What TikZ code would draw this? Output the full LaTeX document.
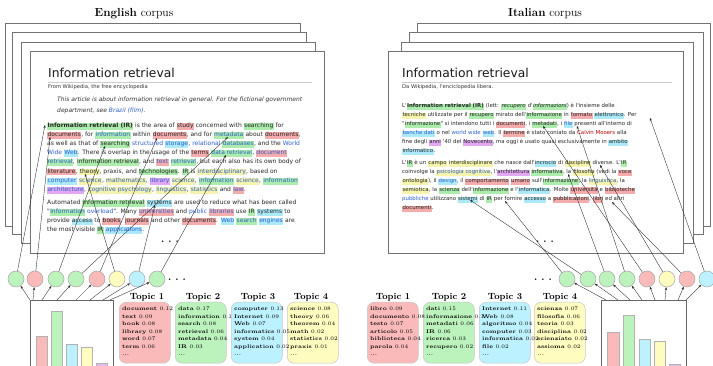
\documentclass[tikz,border=0pt]{standalone}
\usepackage{fontspec}
\newfontfamily\wiki{DejaVu Sans}
\usetikzlibrary{arrows.meta}
\definecolor{hR}{RGB}{245,172,172}
\definecolor{hG}{RGB}{172,236,172}
\definecolor{hC}{RGB}{172,234,250}
\definecolor{hY}{RGB}{246,244,172}
\definecolor{hP}{RGB}{226,168,242}
\definecolor{lnk}{RGB}{45,95,205}
\definecolor{cR}{RGB}{250,186,186}
\definecolor{cG}{RGB}{188,242,188}
\definecolor{cC}{RGB}{188,242,255}
\definecolor{cY}{RGB}{255,252,192}
\definecolor{cP}{RGB}{226,188,236}
\newcommand\HLbox[2]{\begingroup\setlength\fboxsep{0.35pt}\colorbox{#1}{\rule[-1.5pt]{0pt}{5.6pt}#2}\endgroup}
\newcommand\HLr[1]{\HLbox{hR}{#1}}
\newcommand\HLg[1]{\HLbox{hG}{#1}}
\newcommand\HLc[1]{\HLbox{hC}{#1}}
\newcommand\HLy[1]{\HLbox{hY}{#1}}
\newcommand\HLp[1]{\HLbox{hP}{#1}}
\newcommand\LK[1]{\textcolor{lnk}{#1}}
\tikzset{
 page/.style={draw=black!55, line width=0.8pt, fill=white},
 txt/.style={anchor=base west, inner sep=0pt, font=\wiki\fontsize{5.4}{6}\selectfont, text=black!85},
 etxt/.style={anchor=base west, inner sep=0pt, font=\wiki\fontsize{6.0}{6.5}\selectfont, text=black!85},
 wtitle/.style={anchor=base west, inner sep=0pt, font=\wiki\fontsize{12.3}{14}\selectfont, text=black!90},
 wfrom/.style={anchor=base west, inner sep=0pt, font=\wiki\fontsize{5.2}{6}\selectfont, text=black!80},
 wnote/.style={anchor=base west, inner sep=0pt, font=\wiki\itshape\fontsize{6.0}{6.5}\selectfont, text=black!80},
 wrule/.style={draw=black!20, line width=0.4pt},
 dots/.style={inner sep=0pt, font=\bfseries\fontsize{10}{10}\selectfont},
 tcirc/.style={circle, minimum size=16pt, inner sep=0pt, draw=black!35, line width=0.5pt},
 warr/.style={-{Stealth[length=3pt,width=2.2pt]}, line width=0.35pt, black!85},
 topic/.style={draw=black!22, line width=0.5pt, rounded corners=7pt, minimum width=51pt, minimum height=61pt, anchor=north west, inner sep=0pt},
 tlist/.style={anchor=north west, align=left, inner sep=0pt, font=\fontsize{5.4}{7.5}\selectfont},
 ttl/.style={font=\bfseries\fontsize{9}{10}\selectfont, anchor=base, inner sep=0pt},
 corp/.style={font=\fontsize{11.7}{13}\selectfont, anchor=base, inner sep=0pt},
 bar/.style={draw=black!30, line width=0.4pt},
 hist/.style={draw=black!60, line width=0.7pt},
}
\begin{document}
\begin{tikzpicture}[x=1pt,y=-1pt]
\useasboundingbox[fill=white] (0,0) rectangle (713,366);
% ---------------- titles
\node[corp] (ecorp) at (134,17) {\textbf{English} corpus};
\node[corp] (icorp) at (545,17) {\textbf{Italian} corpus};
% ---------------- English pages
\draw[page] (5,23) rectangle (300,226);
\draw[page] (12,32) rectangle (306,234);
\draw[page] (21,42) rectangle (315,243);
\draw[page] (30,51) rectangle (324,253);
% ---------------- Italian pages
\draw[page] (417,23) rectangle (710,226);
\draw[page] (409,32) rectangle (703,234);
\draw[page] (401,42) rectangle (693,243);
\draw[page] (388,51) rectangle (683,253);
% ---------------- English page content
\node[wtitle] (ehead) at (48,78) {Information retrieval};
\draw[wrule] (48,82) -- (312,82);
\node[wfrom] (efrom) at (48,89) {From Wikipedia, the free encyclopedia};
\node[wnote] (enote1) at (57,102) {This article is about information retrieval in general. For the fictional government};
\node[wnote] (enote2) at (57,113) {department, see \LK{Brazil (film)}.};
\node[etxt] (el1) at (47,128) {\HLg{\textbf{Information retrieval (IR)}} is the area of \HLr{study} concerned with \HLg{searching} for};
\node[etxt] (el2) at (47,137) {\HLr{documents}, for \HLg{\LK{information}} within \HLr{documents}, and for \HLg{\LK{metadata}} about \HLr{documents},};
\node[etxt] (el3) at (47,146) {as well as that of \HLg{searching} \LK{structured} \HLc{\LK{storage}}, \LK{relational} \HLg{\LK{databases}}, and the \LK{World}};
\node[etxt] (el4) at (47,155) {\LK{Wide} \HLc{\LK{Web}}. There is overlap in the usage of the \HLr{terms} \HLg{\LK{data retrieval}}, \HLr{\LK{document}}};
\node[etxt] (el5) at (47,164) {\HLg{\LK{retrieval}}, \HLg{information retrieval}, and \HLr{\LK{text}} \HLg{\LK{retrieval}}, but each also has its own body of};
\node[etxt] (el6) at (47,173.5) {\HLr{literature}, \HLy{theory}, praxis, and \HLg{technologies}. \HLg{IR} is \HLy{\LK{interdisciplinary}}, based on};
\node[etxt] (el7) at (47,183) {\HLc{\LK{computer}} \HLy{\LK{science}}, \HLy{\LK{mathematics}}, \HLp{\LK{library}} \HLy{\LK{science}}, \HLg{\LK{information}} \HLy{\LK{science}}, \HLg{\LK{information}}};
\node[etxt] (el8) at (47,192) {\HLp{\LK{architecture}}, \HLy{\LK{cognitive psychology}}, \HLy{\LK{linguistics}}, \HLy{\LK{statistics}} and \HLr{\LK{law}}.};
\node[etxt] (el9) at (47,205) {Automated \HLg{information retrieval} \HLc{systems} are used to reduce what has been called};
\node[etxt] (el10) at (47,214) {"\HLg{\LK{information}} \LK{overload}". Many \HLr{\LK{universities}} and \LK{public} \HLr{\LK{libraries}} use \HLg{IR} \HLc{systems} to};
\node[etxt] (el11) at (47,223) {provide \HLc{access} to \HLr{books}, \HLr{journals} and other \HLr{documents}. \HLc{\LK{Web}} \HLg{\LK{search}} \HLc{\LK{engines}} are};
\node[etxt] (el12) at (47,232) {the most visible \HLg{IR} \HLc{\LK{applications}}.};
\node[dots] (edots) at (170,242) {.\hspace{4pt}.\hspace{4pt}.};
% ---------------- Italian page content
\node[wtitle] (ihead) at (402,78) {Information retrieval};
\draw[wrule] (402,82) -- (672,82);
\node[wfrom] (ifrom) at (402,89) {Da Wikipedia, l'enciclopedia libera.};
\node[txt] (il1) at (402,108) {L'\HLg{\textbf{Information retrieval (IR)}} (lett: \HLg{\textit{recupero}} d'\HLg{\textit{informazioni}}) è l'insieme delle};
\node[txt] (il2) at (402,117) {\HLy{tecniche} utilizzate per il \HLg{recupero} mirato dell'\HLg{informazione} in \HLr{formato} \HLc{elettronico}. Per};
\node[txt] (il3) at (402,126) {"\HLg{informazione}" si intendono tutti i \HLr{documenti}, i \HLg{metadati}, i \HLc{\LK{file}} presenti all'interno di};
\node[txt] (il4) at (402,135) {\HLc{\LK{banche dati}} o nel \LK{world wide} \HLc{\LK{web}}. Il \HLr{termine} è stato coniato da \textcolor{red!75!black}{Calvin Mooers} alla};
\node[txt] (il5) at (402,144) {fine degli \HLp{anni} '40 del \HLp{Novecento}, ma oggi è usato quasi esclusivamente in \HLc{ambito}};
\node[txt] (il6) at (402,153) {\HLc{informatico}.};
\node[txt] (il7) at (402,165) {L'\HLg{IR} è un \HLy{campo} \HLy{interdisciplinare} che nasce dall'\HLc{incrocio} di \HLy{discipline} diverse. L'\HLg{IR}};
\node[txt] (il8) at (402,174) {coinvolge la \HLy{\LK{psicologia cognitiva}}, l'\HLp{architettura} \HLg{informativa}, la \HLy{filosofia} (vedi la \HLr{voce}};
\node[txt] (il9) at (402,183) {\HLy{ontologia}), il \HLc{\LK{design}}, il \HLr{comportamento} \HLr{umano} sull'\HLg{informazione}, la \HLy{\LK{linguistica}}, la};
\node[txt] (il10) at (402,192) {\HLy{semiotica}, la \HLg{scienza} dell'\HLg{informazione} e l'\HLc{informatica}. Molte \HLr{università} e \HLr{biblioteche}};
\node[txt] (il11) at (402,201) {\LK{pubbliche} utilizzano \HLc{sistemi} di \HLg{IR} per fornire \HLc{accesso} a \HLr{pubblicazioni}, \HLr{libri} ed altri};
\node[txt] (il12) at (402,210) {\HLr{documenti}.};
\node[dots] (idots) at (545,242) {.\hspace{4pt}.\hspace{4pt}.};
% ---------------- circles
\node[tcirc, fill=cG] (e1) at (16,279) {};
\node[tcirc, fill=cR] (e2) at (35,279) {};
\node[tcirc, fill=cG] (e3) at (56,279) {};
\node[tcirc, fill=cG] (e4) at (76,279) {};
\node[tcirc, fill=cR] (e5) at (97,279) {};
\node[tcirc, fill=cY] (e6) at (117,279) {};
\node[tcirc, fill=cC] (e7) at (137,279) {};
\node[tcirc, fill=cG] (e8) at (157,279) {};
\node[dots] (ecdots) at (177,280) {.\hspace{4pt}.\hspace{4pt}.};
\node[tcirc, fill=cG] (i1) at (567,279) {};
\node[tcirc, fill=cG] (i2) at (588,279) {};
\node[tcirc, fill=cG] (i3) at (607,279) {};
\node[tcirc, fill=cG] (i4) at (627,279) {};
\node[tcirc, fill=cR] (i5) at (647,279) {};
\node[tcirc, fill=cY] (i6) at (667,279) {};
\node[tcirc, fill=cR] (i7) at (687,279) {};
\node[tcirc, fill=cC] (i8) at (707,279) {};
\node[dots] (icdots) at (543,280) {.\hspace{4pt}.\hspace{4pt}.};
% ---------------- histograms
\draw[bar, fill=cR] (36,336) rectangle (47,367);
\draw[bar, fill=cG] (51,311) rectangle (62,367);
\draw[bar, fill=cC] (66,344) rectangle (77,367);
\draw[bar, fill=cY] (81,347) rectangle (92,367);
\draw[bar, fill=cP] (96,363) rectangle (107,367);
\draw[hist] (30,367) -- (30,300) -- (113,300) -- (113,367);
\draw[bar, fill=cR] (607,332) rectangle (619,367);
\draw[bar, fill=cG] (623,315) rectangle (634,367);
\draw[bar, fill=cC] (639,339) rectangle (650,367);
\draw[bar, fill=cY] (654,341) rectangle (665,367);
\draw[bar, fill=cP] (669,364) rectangle (680,367);
\draw[hist] (601,367) -- (601,300) -- (686,300) -- (686,367);
% ---------------- topics (English)
\node[ttl] (et1t) at (147,300) {Topic 1};
\node[ttl] (et2t) at (203,300) {Topic 2};
\node[ttl] (et3t) at (258,300) {Topic 3};
\node[ttl] (et4t) at (311,300) {Topic 4};
\node[topic, fill=cR] (et1) at (119,302) {};
\node[topic, fill=cG] (et2) at (175,302) {};
\node[topic, fill=cC] (et3) at (231,302) {};
\node[topic, fill=cY] (et4) at (287,302) {};
\node[tlist] (et1w) at (122,307) {\textbf{document} 0.12\\\textbf{text} 0.09\\\textbf{book} 0.08\\\textbf{library} 0.08\\\textbf{word} 0.07\\\textbf{term} 0.06\\\textbf{...}};
\node[tlist] (et2w) at (178,307) {\textbf{data} 0.17\\\textbf{information} 0.1\\\textbf{search} 0.08\\\textbf{retrieval} 0.06\\\textbf{metadata} 0.04\\\textbf{IR} 0.03\\\textbf{...}};
\node[tlist] (et3w) at (234,307) {\textbf{computer} 0.13\\\textbf{Internet} 0.09\\\textbf{Web} 0.07\\\textbf{informatics} 0.05\\\textbf{system} 0.04\\\textbf{application} 0.02\\\textbf{...}};
\node[tlist] (et4w) at (290,307) {\textbf{science} 0.08\\\textbf{theory} 0.06\\\textbf{theorem} 0.04\\\textbf{math} 0.02\\\textbf{statistics} 0.02\\\textbf{praxis} 0.01\\\textbf{...}};
% ---------------- topics (Italian)
\node[ttl] (it1t) at (393,300) {Topic 1};
\node[ttl] (it2t) at (449,300) {Topic 2};
\node[ttl] (it3t) at (505,300) {Topic 3};
\node[ttl] (it4t) at (560,300) {Topic 4};
\node[topic, fill=cR] (it1) at (367,302) {};
\node[topic, fill=cG] (it2) at (423,302) {};
\node[topic, fill=cC] (it3) at (479,302) {};
\node[topic, fill=cY] (it4) at (534,302) {};
\node[tlist] (it1w) at (370,307) {\textbf{libro} 0.09\\\textbf{documento} 0.08\\\textbf{testo} 0.07\\\textbf{articolo} 0.05\\\textbf{biblioteca} 0.04\\\textbf{parola} 0.04\\\textbf{...}};
\node[tlist] (it2w) at (426,307) {\textbf{dati} 0.15\\\textbf{informazione} 0.1\\\textbf{metadati} 0.06\\\textbf{IR} 0.06\\\textbf{ricerca} 0.03\\\textbf{recupero} 0.02\\\textbf{...}};
\node[tlist] (it3w) at (482,307) {\textbf{Internet} 0.11\\\textbf{Web} 0.08\\\textbf{algoritmo} 0.04\\\textbf{computer} 0.03\\\textbf{informatica} 0.02\\\textbf{file} 0.02\\\textbf{...}};
\node[tlist] (it4w) at (537,307) {\textbf{scienza} 0.07\\\textbf{filosofia} 0.06\\\textbf{teoria} 0.03\\\textbf{disciplina} 0.02\\\textbf{scienziato} 0.02\\\textbf{assioma} 0.02\\\textbf{...}};
% ---------------- word anchors
\coordinate (ew1) at (45,125);
\coordinate (ew2) at (50,137);
\coordinate (ew3) at (105,146);
\coordinate (ew4) at (228,137);
\coordinate (ew5) at (157,138);
\coordinate (ew6) at (85,174);
\coordinate (ew7) at (155,205);
\coordinate (ew8) at (226,155);
\coordinate (iw1) at (505,201);
\coordinate (iw2) at (470,200);
\coordinate (iw3) at (568,174);
\coordinate (iw4) at (577,126);
\coordinate (iw5) at (543,126);
\coordinate (iw6) at (600,165);
\coordinate (iw7) at (612,202);
\coordinate (iw8) at (650,118);
% ---------------- histogram anchors
\coordinate (eh1) at (30,300);
\coordinate (eh2) at (33,300);
\coordinate (eh3) at (42,300);
\coordinate (eh4) at (57,300);
\coordinate (eh5) at (76,300);
\coordinate (eh6) at (90,300);
\coordinate (eh7) at (103,300);
\coordinate (eh8) at (110,300);
\coordinate (ih1) at (606,300);
\coordinate (ih2) at (618,300);
\coordinate (ih3) at (630,300);
\coordinate (ih4) at (642,300);
\coordinate (ih5) at (655,300);
\coordinate (ih6) at (665,300);
\coordinate (ih7) at (678,300);
\coordinate (ih8) at (686,300);
% ---------------- connectors
\foreach \k in {1,...,8} {
  \draw[warr] (e\k) -- (ew\k);
  \draw[warr] (i\k) -- (iw\k);
  \draw[warr] (eh\k) -- (e\k);
  \draw[warr] (ih\k) -- (i\k);
}
\end{tikzpicture}
\end{document}
